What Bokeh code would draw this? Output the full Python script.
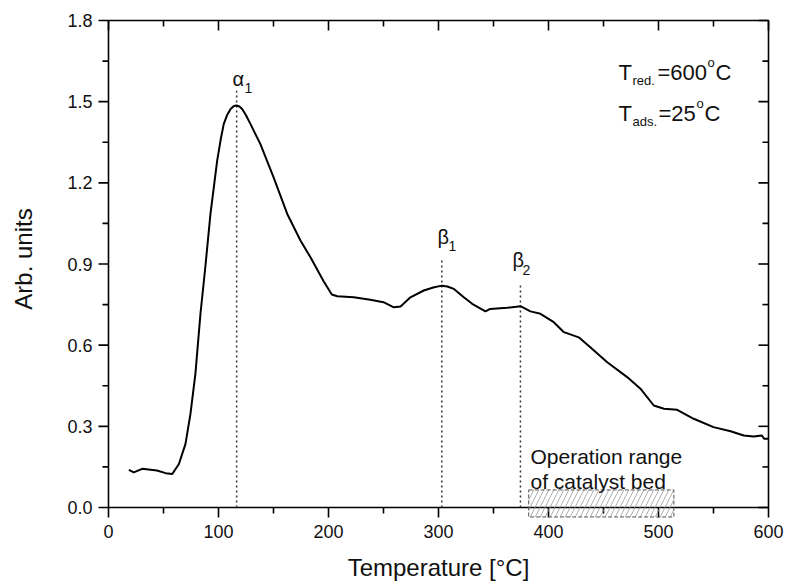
import math
from bokeh.plotting import figure
from bokeh.models import Range1d
from bokeh.core.properties import value
from bokeh.embed import file_html
from bokeh.resources import INLINE

# ---- data ----
temperature = [18.5, 23, 30.6, 44, 52, 58, 64, 70, 74.5, 79, 83.6, 88, 92.7, 98.8,
               102, 104.8, 108, 111, 114, 116.4, 119, 121.5, 125, 129, 138, 150, 162.5,
               174.5, 183.6, 195.7, 203, 208, 223, 238, 250, 259.4, 265.5, 274.5, 286.6,
               296, 303.3, 308, 314, 323, 330.6, 342.7, 347, 362.4, 374.5, 383.6, 392.7,
               404.8, 414, 427.5, 438, 453.4, 471.5, 483.6, 495.7, 505, 517, 532, 550,
               565.5, 577.5, 586.6, 594, 596, 600]
signal = [0.139, 0.130, 0.143, 0.137, 0.127, 0.124, 0.161, 0.235, 0.346, 0.494, 0.716,
          0.888, 1.085, 1.282, 1.36, 1.418, 1.452, 1.473, 1.484, 1.486, 1.482, 1.473,
          1.450, 1.418, 1.344, 1.221, 1.085, 0.987, 0.925, 0.835, 0.787, 0.781, 0.777,
          0.768, 0.759, 0.740, 0.743, 0.777, 0.802, 0.814, 0.820, 0.817, 0.808, 0.777,
          0.753, 0.725, 0.734, 0.738, 0.744, 0.725, 0.716, 0.685, 0.648, 0.629, 0.592,
          0.537, 0.482, 0.439, 0.377, 0.365, 0.361, 0.328, 0.297, 0.282, 0.266, 0.262,
          0.266, 0.254, 0.254]

peak_temps = [116.5, 303, 374.5]
peak_tops = [1.54, 0.92, 0.83]
peak_names = ["α", "β", "β"]
peak_subs = ["1", "1", "2"]

operation_range = [382, 514]

x_ticks = [0, 100, 200, 300, 400, 500, 600]
x_minor = [50, 150, 250, 350, 450, 550]
x_labels = ["0", "100", "200", "300", "400", "500", "600"]
y_ticks = [0.0, 0.3, 0.6, 0.9, 1.2, 1.5, 1.8]
y_minor = [0.15, 0.45, 0.75, 1.05, 1.35, 1.65]
y_labels = ["0.0", "0.3", "0.6", "0.9", "1.2", "1.5", "1.8"]
x_title = "Temperature [°C]"
y_title = "Arb. units"

FONT = "Liberation Sans"
INK = "#111111"

# axis box (data limits) and page layout in pixels
X0, X1, Y0, Y1 = 0, 600, 0, 1.8
W, H = 786, 585
BOX_L, BOX_R, BOX_T, BOX_B = 108, 768, 20, 507
PX_X = (X1 - X0) / (BOX_R - BOX_L)
PX_Y = (Y1 - Y0) / (BOX_B - BOX_T)

p = figure(width=W, height=H, output_backend="svg", toolbar_location=None,
           x_range=Range1d(X0 - BOX_L * PX_X, X1 + (W - BOX_R) * PX_X),
           y_range=Range1d(Y0 - (H - BOX_B) * PX_Y, Y1 + BOX_T * PX_Y),
           x_axis_location=None, y_axis_location=None,
           min_border=0)
p.grid.visible = False
p.outline_line_color = None
p.background_fill_color = "white"
p.border_fill_color = "white"

# axis box
p.quad(left=[X0], right=[X1], bottom=[Y0], top=[Y1], fill_color=None,
       line_color="black", line_width=1.6)

# tick marks: outward on bottom/left, inward on top/right
def vticks(xs, y, length_px):
    p.segment(x0=xs, y0=[y] * len(xs), x1=xs, y1=[y + length_px * PX_Y] * len(xs),
              line_color="black", line_width=1.6)

def hticks(ys, x, length_px):
    p.segment(x0=[x] * len(ys), y0=ys, x1=[x + length_px * PX_X] * len(ys), y1=ys,
              line_color="black", line_width=1.6)

vticks(x_ticks, Y0, -10)
vticks(x_minor, Y0, -6)
vticks(x_ticks, Y1, -10)
vticks(x_minor, Y1, -6)
hticks(y_ticks, X0, -10)
hticks(y_minor, X0, -6)
hticks(y_ticks, X1, -10)
hticks(y_minor, X1, -6)

# tick labels
p.text(x=x_ticks, y=[Y0] * len(x_ticks), text=x_labels, y_offset=17,
       text_font=value(FONT), text_font_size="18px", text_color=INK,
       text_align="center", text_baseline="top")
p.text(x=[X0] * len(y_ticks), y=y_ticks, text=y_labels, x_offset=-16,
       text_font=value(FONT), text_font_size="18px", text_color=INK,
       text_align="right", text_baseline="middle")

# axis titles
p.text(x=[(X0 + X1) / 2], y=[Y0], text=[x_title], y_offset=60,
       text_font=value(FONT), text_font_size="24px", text_color=INK,
       text_align="center", text_baseline="alphabetic")
p.text(x=[X0], y=[(Y0 + Y1) / 2], text=[y_title], x_offset=-85, y_offset=-5,
       angle=math.pi / 2,
       text_font=value(FONT), text_font_size="24px", text_color=INK,
       text_align="center", text_baseline="alphabetic")

# operation range box (hatched, dashed border)
p.quad(left=[operation_range[0]], right=[operation_range[1]], bottom=[-0.035], top=[0.065],
       fill_color=None, line_color="#555555", line_width=1, line_dash="4 2",
       hatch_pattern="/", hatch_color="#9a9a9a", hatch_scale=10, hatch_weight=0.8)

# dotted peak markers
p.segment(x0=peak_temps, y0=[0] * len(peak_temps), x1=peak_temps, y1=peak_tops,
          line_color="#333333", line_width=1.5, line_dash="2 3")

# curve
p.line(temperature, signal, line_color="#000000", line_width=2, line_join="round")

# peak labels (greek letter + subscript)
label_x = [112.7, 299, 367.3]
label_y = [1.585, 1.0015, 0.9165]
sub_dx = [12, 11, 10]
sub_dy = [9, 9, 10]
for i in range(len(peak_names)):
    p.text(x=[label_x[i]], y=[label_y[i]], text=[peak_names[i]],
           text_font=value(FONT), text_font_size="20px", text_color=INK,
           text_align="left", text_baseline="alphabetic")
    p.text(x=[label_x[i]], y=[label_y[i]], text=[peak_subs[i]],
           x_offset=sub_dx[i], y_offset=sub_dy[i],
           text_font=value(FONT), text_font_size="14px", text_color=INK,
           text_align="left", text_baseline="alphabetic")

# conditions text block
def composite(x, y, parts):
    for s, dx, dy, size in parts:
        p.text(x=[x], y=[y], text=[s], x_offset=dx, y_offset=dy,
               text_font=value(FONT), text_font_size=size, text_color=INK,
               text_align="left", text_baseline="alphabetic")

composite(463.6, 1.6075, [("T", 0, 0, "22px"), ("red.", 14, 8, "13px"),
                          ("=600", 39, 0, "22px"), ("o", 89, -10, "13px"),
                          ("C", 97, 0, "22px")])
composite(463.6, 1.456, [("T", 0, 0, "22px"), ("ads.", 14, 8, "13px"),
                         ("=25", 40, 0, "22px"), ("o", 78, -10, "13px"),
                         ("C", 86, 0, "22px")])

# operation range caption
p.text(x=[383.6, 383.6], y=[0.188, 0.097], text=["Operation range", "of catalyst bed"],
       text_font=value(FONT), text_font_size="21px", text_color=INK,
       text_align="left", text_baseline="alphabetic")

open("out.html", "w").write(file_html(p, INLINE))
